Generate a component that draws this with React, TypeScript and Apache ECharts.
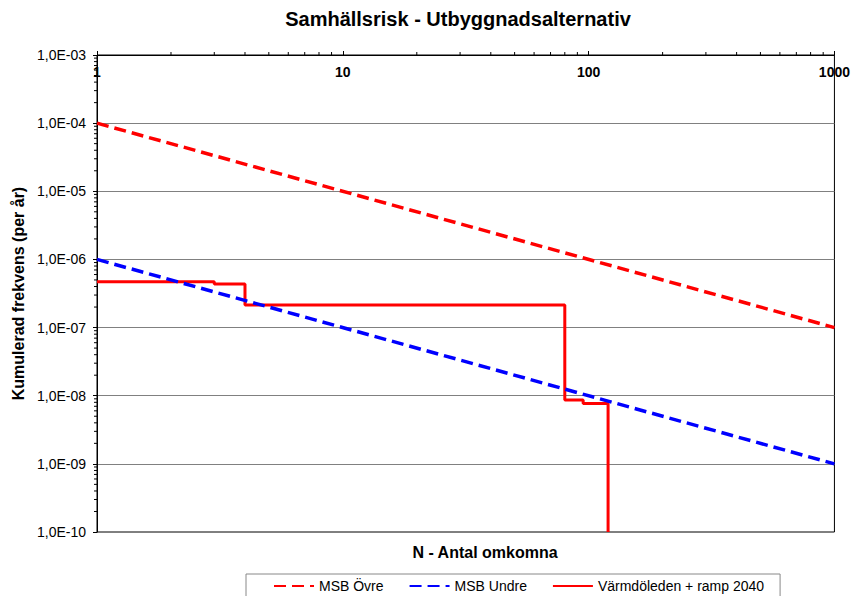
import React, { useEffect, useRef } from "react";
import * as echarts from "echarts";

const titleText = "Samhällsrisk - Utbyggnadsalternativ";
const yAxisName = "Kumulerad frekvens (per år)";
const xAxisName = "N - Antal omkomna";

const seriesNames = ["MSB Övre", "MSB Undre", "Värmdöleden + ramp 2040"];

// MSB upper criterion line
const msbOvre: [number, number][] = [
  [1, 1e-4],
  [1000, 1e-7],
];
// MSB lower criterion line
const msbUndre: [number, number][] = [
  [1, 1e-6],
  [1000, 1e-9],
];
// FN-curve (step)
const stepN = [1, 3, 4, 80, 95, 120];
const stepF = [4.7e-7, 4.35e-7, 2.14e-7, 8.65e-9, 7.7e-9, 1e-10];

// Minor ticks (2..9 in each decade)
const minorFactors = [2, 3, 4, 5, 6, 7, 8, 9];
const xDecades = [1, 10, 100];
const yDecades = [1e-10, 1e-9, 1e-8, 1e-7, 1e-6, 1e-5, 1e-4];

const FONT = "Arial, 'Liberation Sans', sans-serif";

export default function App() {
  const ref = useRef<HTMLDivElement>(null);

  useEffect(() => {
    if (!ref.current) return;
    const chart = echarts.init(ref.current, undefined, { renderer: "svg" });

    const stepData = stepN.map((n, i) => [n, stepF[i]]);
    const xMinor: number[][] = [];
    xDecades.forEach((d) => minorFactors.forEach((f) => xMinor.push([d * f, 1e-3])));
    const yMinor: number[][] = [];
    yDecades.forEach((d) => minorFactors.forEach((f) => yMinor.push([1, parseFloat((d * f).toPrecision(3))])));

    const yFmt = (v: number) => {
      const e = Math.round(Math.log10(v));
      const s = Math.abs(e).toString().padStart(2, "0");
      return `1,0E${e < 0 ? "-" : "+"}${s}`;
    };
    const xFmt = (v: number) => String(Math.round(v));

    chart.setOption({
      animation: false,
      backgroundColor: "#fff",
      textStyle: { fontFamily: FONT },
      grid: {
        left: 97,
        top: 55,
        right: 18,
        bottom: 64,
        show: true,
        borderColor: "#000",
        borderWidth: 1,
        backgroundColor: "transparent",
      },
      graphic: [
        {
          type: "text",
          x: 458,
          y: 19,
          style: {
            text: titleText,
            font: `bold 20px ${FONT}`,
            fill: "#000",
            textAlign: "center",
            textVerticalAlign: "middle",
          },
        },
        {
          type: "text",
          x: 485,
          y: 552,
          style: {
            text: xAxisName,
            font: `bold 16px ${FONT}`,
            fill: "#000",
            textAlign: "center",
            textVerticalAlign: "middle",
          },
        },
      ],
      legend: {
        data: seriesNames,
        left: 246,
        top: 574,
        orient: "horizontal",
        padding: [5, 16, 5, 27],
        itemGap: 25,
        itemWidth: 40,
        itemHeight: 14,
        borderColor: "#888",
        borderWidth: 1,
        itemStyle: { opacity: 0 },
        textStyle: { fontSize: 14, color: "#000", fontFamily: FONT },
      },
      xAxis: {
        type: "log",
        logBase: 10,
        min: 1,
        max: 1000,
        splitNumber: 3,
        position: "top",
        axisLine: { show: true, lineStyle: { color: "#000", width: 1 } },
        axisTick: { show: true, inside: false, length: 4, lineStyle: { color: "#000" } },
        axisLabel: {
          inside: true,
          margin: 10,
          fontSize: 14,
          fontWeight: "bold",
          color: "#000",
          fontFamily: FONT,
          formatter: xFmt,
          showMinLabel: true,
          showMaxLabel: true,
        },
        splitLine: { show: false },
      },
      yAxis: {
        type: "log",
        logBase: 10,
        min: 1e-10,
        max: 1e-3,
        splitNumber: 7,
        name: yAxisName,
        nameLocation: "middle",
        nameGap: 70,
        nameTextStyle: { fontSize: 16, fontWeight: "bold", color: "#000", fontFamily: FONT },
        axisLine: { show: true, lineStyle: { color: "#000", width: 1 } },
        axisTick: { show: true, inside: false, length: 4, lineStyle: { color: "#000" } },
        axisLabel: {
          margin: 11,
          fontSize: 14,
          color: "#000",
          fontFamily: FONT,
          formatter: yFmt,
          showMinLabel: true,
          showMaxLabel: true,
        },
        splitLine: {
          show: true,
          showMinLine: false,
          showMaxLine: false,
          lineStyle: { color: "#808080", width: 1 },
        },
      },
      series: [
        {
          name: seriesNames[2],
          type: "line",
          data: stepData,
          step: "end",
          symbol: "none",
          lineStyle: { color: "#ff0000", width: 3, type: "solid" },
          itemStyle: { color: "#ff0000" },
          z: 3,
        },
        {
          name: seriesNames[0],
          type: "line",
          data: msbOvre,
          symbol: "none",
          lineStyle: { color: "#ff0000", width: 3.5, type: [12, 6] },
          itemStyle: { color: "#ff0000" },
          z: 4,
        },
        {
          name: seriesNames[1],
          type: "line",
          data: msbUndre,
          symbol: "none",
          lineStyle: { color: "#0000ff", width: 3.5, type: [12, 6] },
          itemStyle: { color: "#0000ff" },
          z: 4,
        },
        {
          name: "xMinorTicks",
          type: "custom",
          silent: true,
          clip: false,
          data: xMinor,
          renderItem: (_p: any, api: any) => {
            const pt = api.coord([api.value(0), api.value(1)]);
            return {
              type: "line",
              shape: { x1: pt[0], y1: pt[1], x2: pt[0], y2: pt[1] - 3 },
              style: { stroke: "#000", lineWidth: 1 },
            };
          },
          z: 5,
        },
        {
          name: "yMinorTicks",
          type: "custom",
          silent: true,
          clip: false,
          data: yMinor,
          renderItem: (_p: any, api: any) => {
            const pt = api.coord([api.value(0), api.value(1)]);
            return {
              type: "line",
              shape: { x1: pt[0], y1: pt[1], x2: pt[0] - 3, y2: pt[1] },
              style: { stroke: "#000", lineWidth: 1 },
            };
          },
          z: 5,
        },
      ],
    });

    return () => chart.dispose();
  }, []);

  return (
    <div
      ref={ref}
      style={{ position: "fixed", left: 0, top: 0, width: 853, height: 596, background: "#fff" }}
    />
  );
}
